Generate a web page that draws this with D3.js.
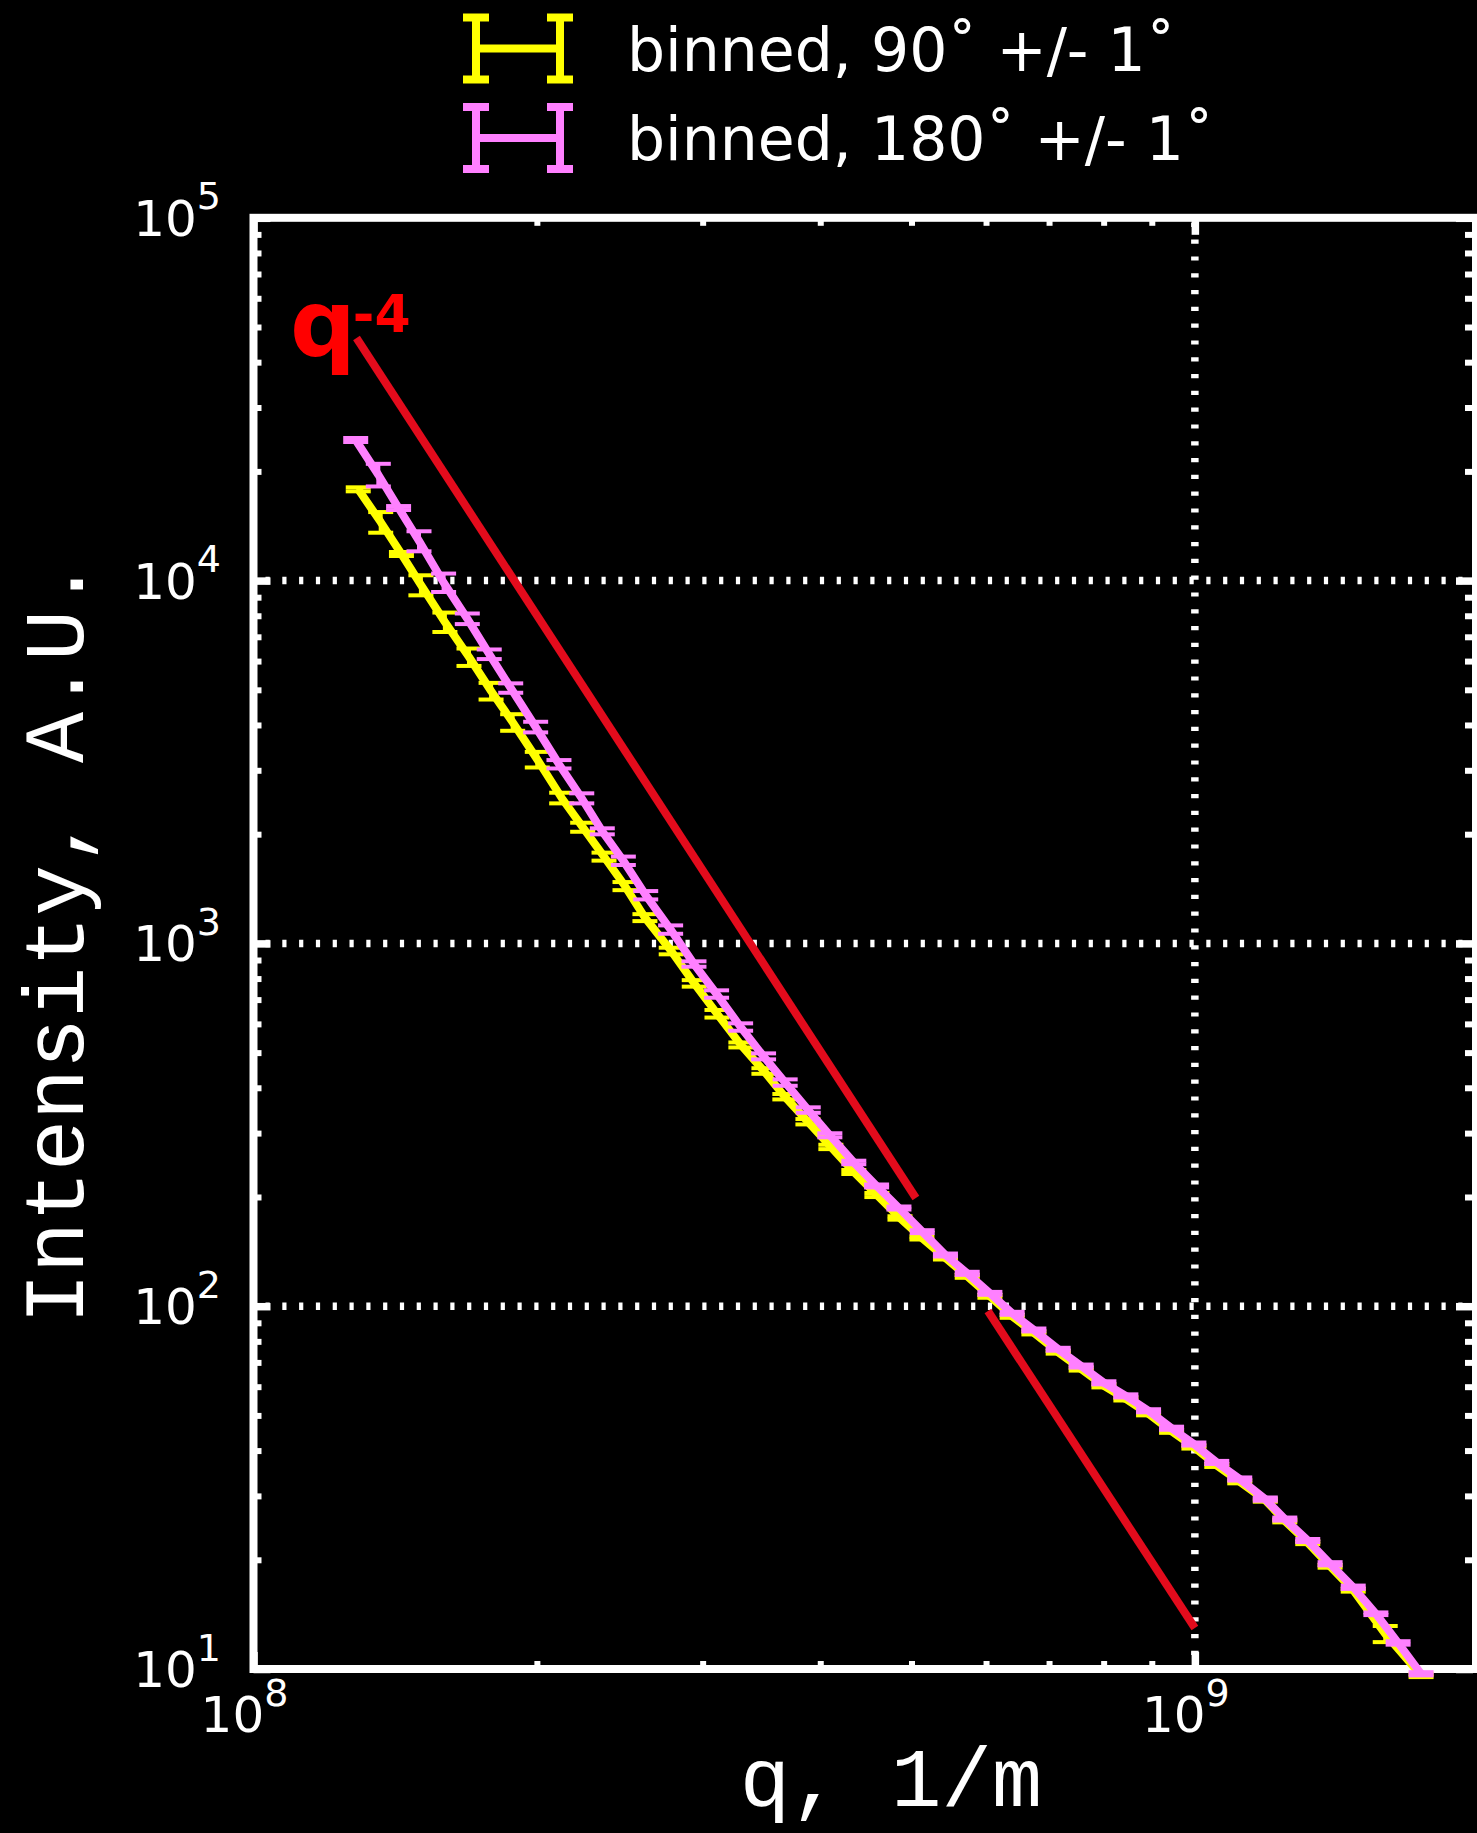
<!DOCTYPE html>
<html>
<head>
<meta charset="utf-8">
<script src="https://cdn.jsdelivr.net/npm/d3@7"></script>
<style>
  html, body { margin: 0; padding: 0; background: #000; }
  svg { display: block; }
</style>
</head>
<body>
<svg id="chart" width="1477" height="1833"></svg>
<script>
// Scattering intensity vs q, binned at two azimuthal angles, with a q^-4 guide line.

// Series: binned 180 deg +/- 1 deg
const q180 = [1.284e8, 1.357e8, 1.426e8, 1.499e8, 1.592e8, 1.687e8, 1.780e8, 1.876e8, 1.994e8, 2.111e8,
              2.232e8, 2.347e8, 2.471e8, 2.610e8, 2.774e8, 2.937e8, 3.104e8, 3.292e8, 3.482e8, 3.671e8,
              3.884e8, 4.095e8, 4.342e8, 4.591e8, 4.849e8, 5.133e8, 5.433e8, 5.730e8, 6.057e8, 6.396e8,
              6.745e8, 7.158e8, 7.572e8, 8.005e8, 8.447e8, 8.929e8, 9.446e8, 9.976e8, 1.055e9, 1.116e9,
              1.188e9, 1.246e9, 1.318e9, 1.392e9, 1.473e9, 1.557e9, 1.644e9, 1.739e9];
const i180 = [24410, 19580, 15850, 12860, 9880, 7852, 6268, 5058, 3949, 3118,
              2512, 2037, 1690, 1358, 1092, 877.5, 725.4, 588.3, 488.3, 413.5,
              347.3, 295.9, 249.0, 214.5, 186.5, 160.5, 138.4, 123.2, 108.5, 95.6,
              86.0, 76.1, 68.4, 61.5, 56.6, 51.5, 46.1, 41.7, 37.1, 33.4,
              29.4, 25.9, 22.6, 19.5, 16.8, 14.2, 11.8, 9.7];
const e180 = [310, 1405, 200, 817, 577, 264, 191, 151, 133, 83,
              80, 39, 45, 36, 29, 15, 17, 13.8, 9.3, 8.4,
              6.0, 3.8, 2.8, 2.0, 1.8, 1.5, 1.3, 1.2, 1.0, 0.9,
              0.8, 0.7, 0.65, 0.6, 0.55, 0.5, 0.45, 0.4, 0.36, 0.33,
              0.3, 0.25, 0.22, 0.2, 0.18, 0.12, 0.13, 0.1];

// Series: binned 90 deg +/- 1 deg
const q90 = [1.292e8, 1.365e8, 1.436e8, 1.506e8, 1.597e8, 1.694e8, 1.788e8, 1.885e8, 2.002e8, 2.125e8,
             2.237e8, 2.357e8, 2.481e8, 2.605e8, 2.778e8, 2.939e8, 3.107e8, 3.294e8, 3.485e8, 3.668e8,
             3.881e8, 4.105e8, 4.342e8, 4.594e8, 4.861e8, 5.129e8, 5.433e8, 5.730e8, 6.057e8, 6.396e8,
             6.745e8, 7.158e8, 7.572e8, 8.005e8, 8.447e8, 8.929e8, 9.446e8, 9.976e8, 1.055e9, 1.116e9,
             1.188e9, 1.246e9, 1.318e9, 1.392e9, 1.473e9, 1.593e9, 1.739e9];
const i90 = [17850, 14500, 11840, 9725, 7690, 6158, 4963, 4069, 3213, 2517,
             2091, 1735, 1439, 1178, 953, 776, 640, 525, 445, 378,
             322.5, 274.8, 234.4, 202.5, 175.1, 154.2, 135.8, 120.9, 106.5, 93.8,
             84.4, 74.7, 67.1, 60.3, 55.5, 50.5, 45.2, 40.9, 36.4, 32.8,
             29.2, 25.6, 22.3, 19.2, 16.5, 12.5, 9.6];
const e90 = [227, 949, 150, 618, 474, 340, 262, 214, 159, 85,
             60, 44, 37, 26, 20, 16, 15.4, 8.3, 7.9, 6.5,
             5.5, 3.8, 3.0, 2.6, 1.9, 1.5, 1.3, 1.15, 1.0, 0.9,
             0.8, 0.7, 0.64, 0.57, 0.53, 0.48, 0.43, 0.39, 0.35, 0.31,
             0.28, 0.24, 0.21, 0.18, 0.16, 0.64, 0.1];

// q^-4 guide, drawn as two pieces
const guideQ1 = [1.2865e8, 5.054e8];
const guideI1 = [46640, 198.7];
const guideQ2 = [6.028e8, 1.0e9];
const guideI2 = [97.0, 12.97];

// Axis ticks and labels
const xMajor = [1e8, 1e9];
const xMajorExp = ["8", "9"];
const yMajor = [1e1, 1e2, 1e3, 1e4, 1e5];
const yMajorExp = ["1", "2", "3", "4", "5"];
const xGrid = [1e9];
const yGrid = [1e2, 1e3, 1e4];

const legendLabels = ["binned, 90\u02DA +/- 1\u02DA", "binned, 180\u02DA +/- 1\u02DA"];
const seriesColors = ["#ffff00", "#ff80ff"];

const plot = { left: 253.5, right: 1476, top: 217.8, bottom: 1669 };
const svg = d3.select("#chart");

svg.append("rect").attr("width", 1477).attr("height", 1833).attr("fill", "#000");

const x = d3.scaleLog().domain([1e8, 1.989e9]).range([plot.left, plot.right]);
const y = d3.scaleLog().domain([10, 1e5]).range([plot.bottom, plot.top]);

// dotted grid at the major decades
const grid = svg.append("g").attr("stroke", "#fff").attr("stroke-width", 7.5).attr("stroke-dasharray", "4.2 12.6");
grid.selectAll("line.gy").data(yGrid).join("line").attr("class", "gy")
  .attr("x1", plot.left + 12).attr("x2", plot.right)
  .attr("y1", d => y(d)).attr("y2", d => y(d));
grid.selectAll("line.gx").data(xGrid).join("line").attr("class", "gx")
  .attr("x1", d => x(d)).attr("x2", d => x(d))
  .attr("y1", plot.bottom - 14).attr("y2", plot.top);

// inward ticks on all four sides
const xMinor = x.ticks().filter(v => !xMajor.includes(v) && v < 1.975e9);
const yMinor = y.ticks().filter(v => !yMajor.includes(v));

function styleAxis(g, w) {
  g.select(".domain").remove();
  g.selectAll(".tick line").attr("stroke", "#fff").attr("stroke-width", w);
  g.selectAll(".tick text").remove();
}
const minorLen = 8, majorLen = 17;
[
  [d3.axisBottom(x), [0, plot.bottom], xMinor, xMajor],
  [d3.axisTop(x), [0, plot.top], xMinor, xMajor],
  [d3.axisLeft(y), [plot.left, 0], yMinor, yMajor],
  [d3.axisRight(y), [plot.right - 3, 0], yMinor, yMajor]
].forEach(([ax, tr, minor, major]) => {
  svg.append("g").attr("transform", `translate(${tr[0]},${tr[1]})`)
    .call(ax.tickValues(minor).tickSizeInner(-minorLen).tickSizeOuter(0).tickFormat(""))
    .call(g => styleAxis(g, 6));
  svg.append("g").attr("transform", `translate(${tr[0]},${tr[1]})`)
    .call(ax.tickValues(major).tickSizeInner(-majorLen).tickSizeOuter(0).tickFormat(""))
    .call(g => styleAxis(g, 7.5));
});

// frame
svg.append("rect")
  .attr("x", plot.left).attr("y", plot.top)
  .attr("width", plot.right - plot.left).attr("height", plot.bottom - plot.top)
  .attr("fill", "none").attr("stroke", "#fff").attr("stroke-width", 8);

// tick labels with superscript exponents
const tickFont = "'DejaVu Sans', 'Noto Sans', sans-serif";
yMajor.forEach((v, k) => {
  const t = svg.append("text").attr("x", 221).attr("y", y(v) + 18)
    .attr("text-anchor", "end").attr("fill", "#fff")
    .attr("font-family", tickFont).attr("font-size", 50);
  t.append("tspan").text("10");
  t.append("tspan").attr("dy", -26.5).attr("font-size", 38).text(yMajorExp[k]);
});
xMajor.forEach((v, k) => {
  const t = svg.append("text").attr("x", x(v) - 9).attr("y", 1732)
    .attr("text-anchor", "middle").attr("fill", "#fff")
    .attr("font-family", tickFont).attr("font-size", 50);
  t.append("tspan").text("10");
  t.append("tspan").attr("dy", -26.5).attr("font-size", 38).text(xMajorExp[k]);
});

// axis titles
svg.append("text")
  .attr("transform", "translate(83,941.5) rotate(-90)")
  .attr("text-anchor", "middle").attr("fill", "#fff")
  .attr("font-family", "'Liberation Mono', 'Courier New', monospace").attr("font-size", 85)
  .text("Intensity, A.U.");
svg.append("text")
  .attr("x", 891).attr("y", 1806)
  .attr("text-anchor", "middle").attr("fill", "#fff")
  .attr("font-family", "'Liberation Mono', 'Courier New', monospace").attr("font-size", 84)
  .text("q, 1/m");

// q^-4 guide line
const line = d3.line().x(d => x(d[0])).y(d => y(d[1]));
[[guideQ1, guideI1], [guideQ2, guideI2]].forEach(([qs, is]) => {
  svg.append("path")
    .attr("d", line(qs.map((q, k) => [q, is[k]])))
    .attr("fill", "none").attr("stroke", "#e30b1c").attr("stroke-width", 8);
});
const lab = svg.append("text").attr("x", 290).attr("y", 356)
  .attr("fill", "#ff0000").attr("font-family", tickFont).attr("font-weight", "bold").attr("font-size", 92);
lab.append("tspan").text("q");
lab.append("tspan").attr("dy", -24).attr("dx", -3).attr("font-size", 52).text("-4");

// data series with error bars
function drawSeries(qs, is, es, color) {
  const pts = qs.map((q, k) => ({ q, i: is[k], e: es[k] }));
  const g = svg.append("g");
  g.append("path")
    .attr("d", d3.line().x(d => x(d.q)).y(d => y(d.i))(pts))
    .attr("fill", "none").attr("stroke", color).attr("stroke-width", 8).attr("stroke-linejoin", "round");
  const eb = g.append("g").attr("stroke", color).attr("stroke-width", 4);
  eb.selectAll("line.stem").data(pts).join("line").attr("class", "stem")
    .attr("x1", d => x(d.q)).attr("x2", d => x(d.q))
    .attr("y1", d => y(d.i + d.e)).attr("y2", d => y(d.i - d.e));
  eb.selectAll("line.capHi").data(pts).join("line").attr("class", "capHi")
    .attr("x1", d => x(d.q) - 12.5).attr("x2", d => x(d.q) + 12.5)
    .attr("y1", d => y(d.i + d.e)).attr("y2", d => y(d.i + d.e));
  eb.selectAll("line.capLo").data(pts).join("line").attr("class", "capLo")
    .attr("x1", d => x(d.q) - 12.5).attr("x2", d => x(d.q) + 12.5)
    .attr("y1", d => y(d.i - d.e)).attr("y2", d => y(d.i - d.e));
}
drawSeries(q90, i90, e90, seriesColors[0]);
drawSeries(q180, i180, e180, seriesColors[1]);

// legend
const legend = svg.append("g");
legendLabels.forEach((label, k) => {
  const cy = 48.5 + k * 89.5;
  const c = seriesColors[k];
  const g = legend.append("g").attr("stroke", c).attr("stroke-width", 8);
  const xl = 476, xr = 560, half = 31;
  g.append("line").attr("x1", xl).attr("x2", xr).attr("y1", cy).attr("y2", cy);
  [xl, xr].forEach(xx => {
    g.append("line").attr("x1", xx).attr("x2", xx).attr("y1", cy - half).attr("y2", cy + half);
    g.append("line").attr("x1", xx - 13).attr("x2", xx + 13).attr("y1", cy - half).attr("y2", cy - half);
    g.append("line").attr("x1", xx - 13).attr("x2", xx + 13).attr("y1", cy + half).attr("y2", cy + half);
  });
  legend.append("text").attr("x", 627).attr("y", cy + 22)
    .attr("fill", "#fff").attr("font-family", tickFont).attr("font-size", 60)
    .text(label);
});
</script>
</body>
</html>
